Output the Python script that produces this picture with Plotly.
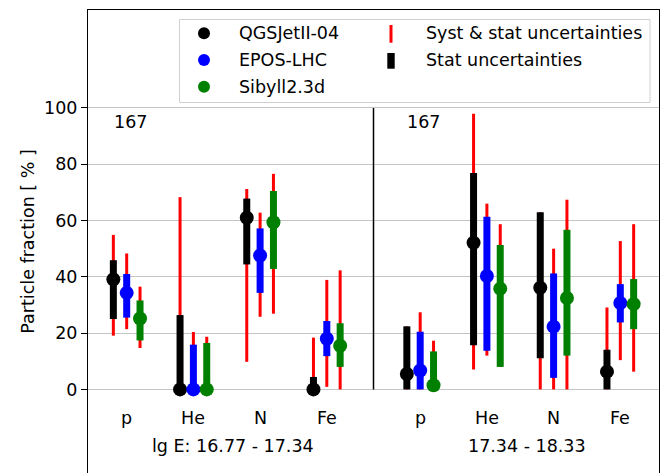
import plotly.graph_objects as go

# particle types and energy bins
species = ['p', 'He', 'N', 'Fe']
bin_labels = ['lg E: 16.77 - 17.34', '17.34 - 18.33']
n_events = ['167', '167']

models = ['QGSJetII-04', 'EPOS-LHC', 'Sibyll2.3d']

# fractions [%], first 4 values = low-energy bin, last 4 = high-energy bin
qgs_val = [39.1, 0.0, 61.0, 0.0, 5.5, 52.1, 36.1, 6.3]
qgs_stat_lo = [25.0, 0.0, 44.4, 0.0, 0.0, 15.7, 11.1, 0.0]
qgs_stat_hi = [45.9, 26.4, 67.8, 4.4, 22.4, 76.9, 62.9, 14.1]
qgs_sys_lo = [19.1, 0.0, 9.8, 0.0, 0.0, 7.1, 0.0, 0.0]
qgs_sys_hi = [54.9, 68.3, 71.2, 18.4, 22.4, 97.9, 62.9, 29.1]

epos_val = [34.3, 0.0, 47.6, 18.0, 6.7, 40.3, 22.3, 30.7]
epos_stat_lo = [25.5, 0.0, 34.3, 11.8, 0.0, 13.7, 4.1, 23.8]
epos_stat_hi = [41.0, 15.9, 57.2, 24.3, 20.5, 61.3, 41.2, 37.4]
epos_sys_lo = [21.4, 0.0, 25.8, 0.9, 0.0, 12.0, 0.0, 10.4]
epos_sys_hi = [48.3, 20.4, 62.8, 38.9, 27.4, 66.0, 50.0, 52.7]

sib_val = [25.2, 0.0, 59.4, 15.5, 1.5, 35.8, 32.5, 30.3]
sib_stat_lo = [17.4, 0.0, 42.8, 8.0, 0.0, 8.0, 12.0, 21.4]
sib_stat_hi = [31.6, 16.5, 70.5, 23.5, 13.5, 51.3, 56.7, 39.2]
sib_sys_lo = [14.7, 0.0, 26.9, 0.0, 0.0, 8.0, 0.0, 6.3]
sib_sys_hi = [36.5, 18.7, 76.6, 42.3, 17.3, 58.7, 67.4, 58.7]

y_ticks = [0, 20, 40, 60, 80, 100]

# layout helpers
base_x = [0, 1, 2, 3, 4.4, 5.4, 6.4, 7.4]
offsets = [-0.2, 0.0, 0.2]
colors = ['black', '#0000ff', '#008000']
FONT = 'DejaVu Sans'
FS = 17.5

# the page body has an 8px margin, so the figure is made 8px smaller
PAGE = 8
W, H = 668 - PAGE, 473 - PAGE
L, R, T, B = 88 - PAGE, 9, 10 - PAGE, 0


def px(x):
    # window pixel -> paper x
    return (x - PAGE - L) / (W - L - R)


def py(y):
    # window pixel -> paper y
    return (H - B - (y - PAGE)) / (H - T - B)


data = [
    (qgs_val, qgs_stat_lo, qgs_stat_hi, qgs_sys_lo, qgs_sys_hi),
    (epos_val, epos_stat_lo, epos_stat_hi, epos_sys_lo, epos_sys_hi),
    (sib_val, sib_stat_lo, sib_stat_hi, sib_sys_lo, sib_sys_hi),
]

fig = go.Figure()
for name, color, off, (val, slo, shi, ylo, yhi) in zip(models, colors, offsets, data):
    xs = [b + off for b in base_x]
    fig.add_trace(go.Scatter(
        x=xs, y=val, mode='markers',
        marker=dict(size=1, color='rgba(0,0,0,0)'),
        error_y=dict(type='data', symmetric=False,
                     array=[h - v for h, v in zip(yhi, val)],
                     arrayminus=[v - l for v, l in zip(val, ylo)],
                     color='#ff0000', thickness=3, width=0),
        hoverinfo='skip', showlegend=False))
    fig.add_trace(go.Scatter(
        x=xs, y=val, mode='markers', name=name,
        marker=dict(size=14, color=color),
        error_y=dict(type='data', symmetric=False,
                     array=[h - v for h, v in zip(shi, val)],
                     arrayminus=[v - l for v, l in zip(val, slo)],
                     color=color, thickness=7, width=0),
        showlegend=False))

annotations = []
for i, s in enumerate(species * 2):
    annotations.append(dict(x=base_x[i], y=-10, xref='x', yref='y', text=s,
                            showarrow=False, font=dict(size=FS, color='black')))
for k, lab in enumerate(bin_labels):
    annotations.append(dict(x=1.6 + 4.4 * k, y=-20, xref='x', yref='y', text=lab,
                            showarrow=False, font=dict(size=FS, color='black')))
    annotations.append(dict(x=base_x[4 * k] + 0.05, y=95, xref='x', yref='y', text=n_events[k],
                            showarrow=False, font=dict(size=FS, color='black')))

shapes = [dict(type='line', xref='x', yref='y', x0=3.7, x1=3.7, y0=0, y1=100,
               line=dict(color='black', width=1.5))]

# legend box drawn by hand (two columns)
shapes.append(dict(type='rect', xref='paper', yref='paper', layer='above',
                   x0=px(179.5), x1=px(650), y0=py(102.5), y1=py(19.5),
                   line=dict(color='#d0d0d0', width=1), fillcolor='rgba(255,255,255,0.8)'))
for j, (name, color) in enumerate(zip(models, colors)):
    yy = 33.3 + 26.7 * j
    shapes.append(dict(type='circle', xref='paper', yref='paper', layer='above',
                       xsizemode='pixel', ysizemode='pixel',
                       xanchor=px(204), yanchor=py(yy), x0=-6, x1=6, y0=-6, y1=6,
                       fillcolor=color, line=dict(width=0)))
    annotations.append(dict(x=px(236.5), y=py(yy), xref='paper', yref='paper', text=name,
                            xanchor='left', yanchor='middle', showarrow=False,
                            font=dict(size=FS, color='black')))
shapes.append(dict(type='line', xref='paper', yref='paper', layer='above',
                   x0=px(391), x1=px(391), y0=py(42.7), y1=py(25),
                   line=dict(color='#ff0000', width=3)))
shapes.append(dict(type='rect', xref='paper', yref='paper', layer='above',
                   x0=px(387.3), x1=px(394.7), y0=py(68.7), y1=py(53),
                   fillcolor='black', line=dict(width=0)))
for j, lab in enumerate(['Syst &amp; stat uncertainties', 'Stat uncertainties']):
    annotations.append(dict(x=px(424), y=py(33.3 + 26.7 * j), xref='paper', yref='paper',
                            text=lab, xanchor='left', yanchor='middle', showarrow=False,
                            font=dict(size=FS, color='black')))

fig.update_layout(
    width=W, height=H,
    margin=dict(l=L, r=R, t=T, b=B),
    paper_bgcolor='white', plot_bgcolor='white',
    font=dict(family=FONT, size=FS, color='black'),
    showlegend=False,
    annotations=annotations,
    shapes=shapes,
)
fig.update_xaxes(range=[-0.58, 7.98], showgrid=False, zeroline=False,
                 showticklabels=False, ticks='', side='top',
                 showline=True, linecolor='black', linewidth=1)
fig.update_yaxes(range=[-29.7, 134.8], tickvals=y_ticks, ticks='outside', ticklen=6,
                 tickcolor='black', showgrid=True, gridcolor='#c4c4c4', gridwidth=1,
                 zeroline=False, showline=True, mirror=True, linecolor='black', linewidth=1,
                 tickfont=dict(size=FS, color='black'),
                 title=dict(text='Particle fraction [ % ]', standoff=4,
                            font=dict(size=FS, color='black')),
                 automargin=False)

fig.write_html('out.html')
